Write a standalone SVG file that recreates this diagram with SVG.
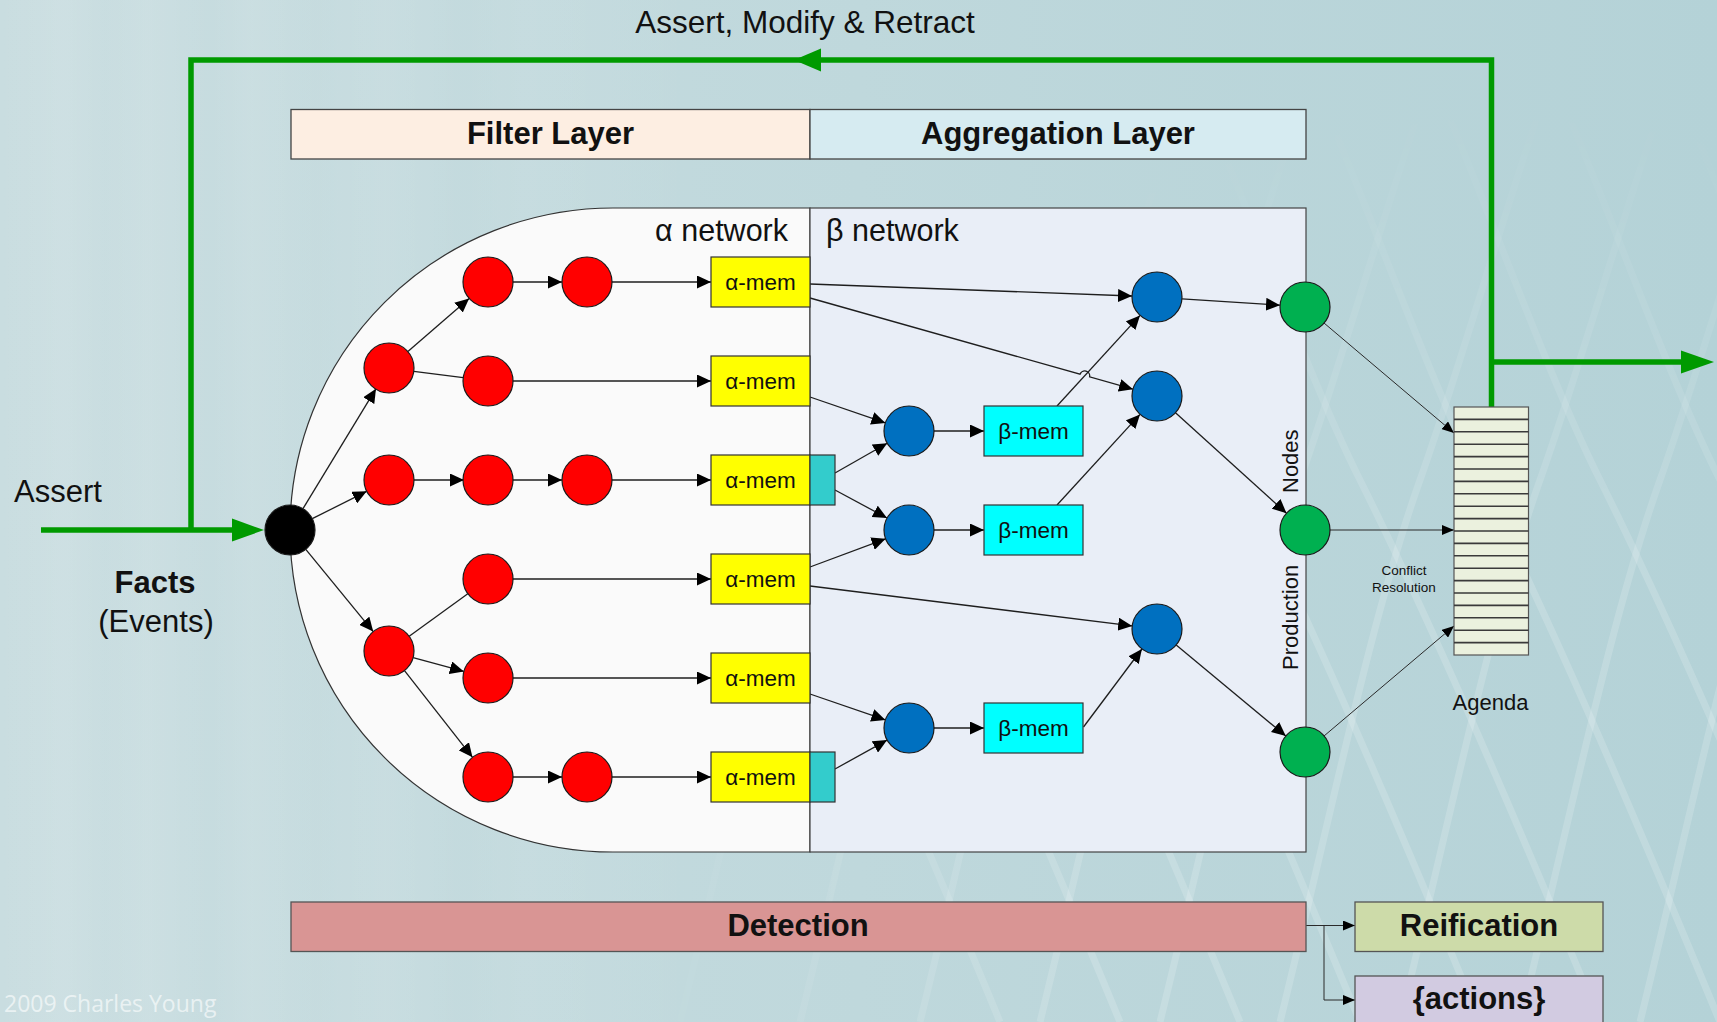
<svg xmlns="http://www.w3.org/2000/svg" width="1717" height="1022" viewBox="0 0 1717 1022">
  <defs>
    <linearGradient id="bg" x1="0" y1="0" x2="1" y2="0">
      <stop offset="0" stop-color="#c9dde0"/>
      <stop offset="0.5" stop-color="#bfd8dc"/>
      <stop offset="1" stop-color="#b4d2d7"/>
    </linearGradient>
    <!-- soft vertical sheen on the left side of the backdrop -->
    <linearGradient id="streaks" gradientUnits="userSpaceOnUse" x1="0" y1="0" x2="700" y2="0">
      <stop offset="0" stop-color="#fff" stop-opacity="0"/>
      <stop offset="0.09" stop-color="#fff" stop-opacity="0.10"/>
      <stop offset="0.15" stop-color="#fff" stop-opacity="0.02"/>
      <stop offset="0.21" stop-color="#fff" stop-opacity="0.09"/>
      <stop offset="0.30" stop-color="#fff" stop-opacity="0"/>
      <stop offset="0.36" stop-color="#fff" stop-opacity="0.08"/>
      <stop offset="0.45" stop-color="#fff" stop-opacity="0.01"/>
      <stop offset="0.55" stop-color="#fff" stop-opacity="0.07"/>
      <stop offset="0.66" stop-color="#fff" stop-opacity="0"/>
      <stop offset="0.76" stop-color="#fff" stop-opacity="0.06"/>
      <stop offset="1" stop-color="#fff" stop-opacity="0"/>
    </linearGradient>
    <radialGradient id="netFade" gradientUnits="userSpaceOnUse" cx="1500" cy="980" r="900">
      <stop offset="0" stop-color="#fff"/>
      <stop offset="0.45" stop-color="#fff"/>
      <stop offset="1" stop-color="#000"/>
    </radialGradient>
    <mask id="netMask" maskUnits="userSpaceOnUse" x="0" y="0" width="1717" height="1022">
      <rect x="0" y="0" width="1717" height="1022" fill="url(#netFade)"/>
    </mask>
    <marker id="ah" markerUnits="userSpaceOnUse" markerWidth="14" markerHeight="13" viewBox="0 0 14 13" refX="14" refY="6.5" orient="auto">
      <path d="M0,0 L14,6.5 L0,13 Z" fill="#000"/>
    </marker>
    <marker id="ahs" markerUnits="userSpaceOnUse" markerWidth="12" markerHeight="10" viewBox="0 0 12 10" refX="12" refY="5" orient="auto">
      <path d="M0,0 L12,5 L0,10 Z" fill="#000"/>
    </marker>
    <style>
      .txt { font-family: "Liberation Sans", Arial, sans-serif; fill: #111; }
      .bold { font-weight: bold; }
      .edge { fill: none; stroke: #1e1e1e; stroke-width: 1.3; }
      .thin { fill: none; stroke: #2a2a2a; stroke-width: 1; }
      .arr { marker-end: url(#ah); }
      .arrs { marker-end: url(#ahs); }
      .node { stroke: #1a1a1a; stroke-width: 1.2; }
      .red { fill: #ff0000; }
      .blue { fill: #0070c0; }
      .green { fill: #00b050; }
      .amem { fill: #ffff00; stroke: #333; stroke-width: 1.2; }
      .bmem { fill: #00ffff; stroke: #333; stroke-width: 1.2; }
      .tab { fill: #33cccc; stroke: #333; stroke-width: 1.2; }
      .memtxt { font-family: "Liberation Sans", Arial, sans-serif; font-size: 22.5px; fill: #111; text-anchor: middle; }
      .flow { fill: none; stroke: #009a00; stroke-width: 5.5; }
      .net { fill: none; stroke: #ffffff; stroke-width: 7; stroke-opacity: 0.17; }
    </style>
  </defs>

  <!-- backdrop -->
  <rect x="0" y="0" width="1717" height="1022" fill="url(#bg)"/>
  <rect x="0" y="0" width="700" height="1022" fill="url(#streaks)"/>
  <g mask="url(#netMask)">
    <path class="net" d="M560,1022 C610,820 650,620 700,480 S800,150 860,0"/>
    <path class="net" d="M680,1022 C730,820 770,620 820,480 S920,150 980,0"/>
    <path class="net" d="M800,1022 C850,820 890,620 940,480 S1040,150 1100,0"/>
    <path class="net" d="M920,1022 C970,820 1010,620 1060,480 S1160,150 1220,0"/>
    <path class="net" d="M1040,1022 C1090,820 1130,620 1180,480 S1280,150 1340,0"/>
    <path class="net" d="M1160,1022 C1210,820 1250,620 1300,480 S1400,150 1460,0"/>
    <path class="net" d="M1280,1022 C1330,820 1370,620 1420,480 S1520,150 1580,0"/>
    <path class="net" d="M1400,1022 C1450,820 1490,620 1540,480 S1640,150 1700,0"/>
    <path class="net" d="M1520,1022 C1570,820 1610,620 1660,480 S1760,150 1820,0"/>
    <path class="net" d="M1640,1022 C1690,820 1730,620 1780,480 S1880,150 1940,0"/>
    <path class="net" d="M1000,1022 C900,780 820,600 760,480 S640,180 560,0"/>
    <path class="net" d="M1120,1022 C1020,780 940,600 880,480 S760,180 680,0"/>
    <path class="net" d="M1240,1022 C1140,780 1060,600 1000,480 S880,180 800,0"/>
    <path class="net" d="M1360,1022 C1260,780 1180,600 1120,480 S1000,180 920,0"/>
    <path class="net" d="M1480,1022 C1380,780 1300,600 1240,480 S1120,180 1040,0"/>
    <path class="net" d="M1600,1022 C1500,780 1420,600 1360,480 S1240,180 1160,0"/>
    <path class="net" d="M1720,1022 C1620,780 1540,600 1480,480 S1360,180 1280,0"/>
    <path class="net" d="M1840,1022 C1740,780 1660,600 1600,480 S1480,180 1400,0"/>
    <path class="net" d="M1960,1022 C1860,780 1780,600 1720,480 S1600,180 1520,0"/>
    <path class="net" d="M2080,1022 C1980,780 1900,600 1840,480 S1720,180 1640,0"/>
  </g>

  <!-- layer bands -->
  <g id="filter-layer">
    <rect x="291" y="109.5" width="519" height="49.5" fill="#fdeee2" stroke="#444" stroke-width="1.3"/>
    <text class="txt bold" x="550.5" y="144" font-size="31" text-anchor="middle">Filter Layer</text>
  </g>
  <g id="aggregation-layer">
    <rect x="810" y="109.5" width="496" height="49.5" fill="#d6ebf1" stroke="#444" stroke-width="1.3"/>
    <text class="txt bold" x="1058" y="144" font-size="31" text-anchor="middle">Aggregation Layer</text>
  </g>

  <!-- network containers -->
  <g id="alpha-network">
    <path d="M810,208 L613,208 A323,322 0 0 0 290,530 A323,322 0 0 0 613,852 L810,852 Z" fill="#fafafa" stroke="#333" stroke-width="1.2"/>
    <text class="txt" x="788" y="241" font-size="30.5" text-anchor="end">α network</text>
  </g>
  <g id="beta-network">
    <rect x="810" y="208" width="496" height="644" fill="#e9eef7" stroke="#444" stroke-width="1.2"/>
    <text class="txt" x="826" y="241" font-size="30.5">β network</text>
    <text class="txt" font-size="22" transform="translate(1298,670) rotate(-90)"><tspan x="0" y="0">Production</tspan><tspan x="177" y="0">Nodes</tspan></text>
  </g>

  <!-- connectors -->
  <g id="connectors">
    <!-- alpha network -->
    <line class="edge arr" x1="303" y1="508.7" x2="376" y2="388.7"/>
    <line class="edge arr" x1="312.3" y1="518.7" x2="366.7" y2="491.3"/>
    <line class="edge arr" x1="305.8" y1="549.4" x2="373.2" y2="631.6"/>
    <line class="edge arr" x1="407.9" y1="351.6" x2="469.1" y2="298.4"/>
    <line class="edge" x1="413.8" y1="371.3" x2="463.2" y2="377.7"/>
    <line class="edge" x1="409.2" y1="636.3" x2="467.8" y2="593.7"/>
    <line class="edge arr" x1="413.1" y1="657.6" x2="463.9" y2="671.4"/>
    <line class="edge arr" x1="404.5" y1="670.7" x2="472.5" y2="757.3"/>
    <line class="edge arr" x1="513" y1="282" x2="562" y2="282"/>
    <line class="edge arr" x1="612" y1="282" x2="711" y2="282"/>
    <line class="edge arr" x1="513" y1="381" x2="711" y2="381"/>
    <line class="edge arr" x1="414" y1="480" x2="464" y2="480"/>
    <line class="edge arr" x1="513" y1="480" x2="562" y2="480"/>
    <line class="edge arr" x1="612" y1="480" x2="711" y2="480"/>
    <line class="edge arr" x1="513" y1="579" x2="711" y2="579"/>
    <line class="edge arr" x1="513" y1="678" x2="711" y2="678"/>
    <line class="edge arr" x1="513" y1="777" x2="562" y2="777"/>
    <line class="edge arr" x1="612" y1="777" x2="711" y2="777"/>
    <!-- alpha memories into beta network -->
    <line class="edge arr" x1="810" y1="284" x2="1132" y2="296"/>
    <path class="edge arr" d="M810,298 L1080,374.2 A5,5 0 0 1 1089.6,376.9 L1133,389.2"/>
    <line class="edge arr" x1="810" y1="397" x2="885.4" y2="422.9"/>
    <line class="edge arr" x1="835" y1="473" x2="887.2" y2="443.3"/>
    <line class="edge arr" x1="835" y1="490" x2="887" y2="518"/>
    <line class="edge arr" x1="810" y1="567" x2="885.6" y2="538.8"/>
    <line class="edge arr" x1="810" y1="586" x2="1132.2" y2="625.9"/>
    <line class="edge arr" x1="810" y1="694" x2="885.4" y2="719.9"/>
    <line class="edge arr" x1="835" y1="769" x2="887.1" y2="740.1"/>
    <!-- joins and beta memories -->
    <line class="edge arr" x1="934" y1="431" x2="984" y2="431"/>
    <line class="edge arr" x1="934" y1="530" x2="984" y2="530"/>
    <line class="edge arr" x1="934" y1="728" x2="984" y2="728"/>
    <line class="edge arr" x1="1057" y1="406" x2="1140" y2="315.4"/>
    <line class="edge arr" x1="1057" y1="505" x2="1140" y2="414.4"/>
    <line class="edge arr" x1="1083.5" y1="727" x2="1141.9" y2="649"/>
    <!-- into production nodes -->
    <line class="edge arr" x1="1182" y1="298.8" x2="1280" y2="305.2"/>
    <line class="edge arr" x1="1175.5" y1="412.8" x2="1286.5" y2="513.2"/>
    <line class="edge arr" x1="1176.2" y1="645" x2="1285.8" y2="736"/>
    <!-- production nodes to agenda -->
    <line class="thin arrs" x1="1324" y1="323" x2="1454" y2="433"/>
    <line class="thin arrs" x1="1330" y1="530" x2="1454" y2="530"/>
    <line class="thin arrs" x1="1324" y1="736" x2="1454" y2="626"/>
    <!-- detection outputs -->
    <path class="thin arrs" d="M1306,925.5 L1355,925.5"/>
    <path class="thin arrs" d="M1324,925.5 L1324,1000 L1355,1000"/>
    <!-- fact flow -->
    <path class="flow" d="M41,530 L232,530"/>
    <polygon points="232,518.5 264,530 232,541.5" fill="#009a00"/>
    <path class="flow" d="M191,530 L191,60 L1491.5,60 L1491.5,407"/>
    <polygon points="794,60 821,48.5 821,71.5" fill="#009a00"/>
    <path class="flow" d="M1491.5,362 L1682,362"/>
    <polygon points="1681,350.5 1714,362 1681,373.5" fill="#009a00"/>
  </g>

  <!-- alpha nodes -->
  <g id="root"><circle class="node" cx="290" cy="530" r="25" fill="#000"/></g>
  <g id="a1"><circle class="node red" cx="389" cy="368" r="25"/></g>
  <g id="a2"><circle class="node red" cx="389" cy="480" r="25"/></g>
  <g id="a3"><circle class="node red" cx="389" cy="651" r="25"/></g>
  <g id="a4"><circle class="node red" cx="488" cy="282" r="25"/></g>
  <g id="a5"><circle class="node red" cx="587" cy="282" r="25"/></g>
  <g id="a6"><circle class="node red" cx="488" cy="381" r="25"/></g>
  <g id="a7"><circle class="node red" cx="488" cy="480" r="25"/></g>
  <g id="a8"><circle class="node red" cx="587" cy="480" r="25"/></g>
  <g id="a9"><circle class="node red" cx="488" cy="579" r="25"/></g>
  <g id="a10"><circle class="node red" cx="488" cy="678" r="25"/></g>
  <g id="a11"><circle class="node red" cx="488" cy="777" r="25"/></g>
  <g id="a12"><circle class="node red" cx="587" cy="777" r="25"/></g>

  <!-- alpha memories -->
  <g id="amem1"><rect class="amem" x="711" y="257" width="99" height="50"/><text class="memtxt" x="760.5" y="290">α-mem</text></g>
  <g id="amem2"><rect class="amem" x="711" y="356" width="99" height="50"/><text class="memtxt" x="760.5" y="389">α-mem</text></g>
  <g id="amem3"><rect class="amem" x="711" y="455" width="99" height="50"/><rect class="tab" x="810" y="455" width="25" height="50"/><text class="memtxt" x="760.5" y="488">α-mem</text></g>
  <g id="amem4"><rect class="amem" x="711" y="554" width="99" height="50"/><text class="memtxt" x="760.5" y="587">α-mem</text></g>
  <g id="amem5"><rect class="amem" x="711" y="653" width="99" height="50"/><text class="memtxt" x="760.5" y="686">α-mem</text></g>
  <g id="amem6"><rect class="amem" x="711" y="752" width="99" height="50"/><rect class="tab" x="810" y="752" width="25" height="50"/><text class="memtxt" x="760.5" y="785">α-mem</text></g>

  <!-- beta nodes -->
  <g id="b1"><circle class="node blue" cx="1157" cy="297" r="25"/></g>
  <g id="b2"><circle class="node blue" cx="1157" cy="396" r="25"/></g>
  <g id="b3"><circle class="node blue" cx="909" cy="431" r="25"/></g>
  <g id="b4"><circle class="node blue" cx="909" cy="530" r="25"/></g>
  <g id="b5"><circle class="node blue" cx="1157" cy="629" r="25"/></g>
  <g id="b6"><circle class="node blue" cx="909" cy="728" r="25"/></g>
  <g id="bmem1"><rect class="bmem" x="984" y="406" width="99" height="50"/><text class="memtxt" x="1033.5" y="439">β-mem</text></g>
  <g id="bmem2"><rect class="bmem" x="984" y="505" width="99" height="50"/><text class="memtxt" x="1033.5" y="538">β-mem</text></g>
  <g id="bmem3"><rect class="bmem" x="984" y="703" width="99" height="50"/><text class="memtxt" x="1033.5" y="736">β-mem</text></g>

  <!-- production nodes -->
  <g id="p1"><circle class="node green" cx="1305" cy="307" r="25"/></g>
  <g id="p2"><circle class="node green" cx="1305" cy="530" r="25"/></g>
  <g id="p3"><circle class="node green" cx="1305" cy="752" r="25"/></g>

  <!-- agenda -->
  <g id="agenda">
    <rect x="1454" y="407" width="74.5" height="248" fill="#ebf1de" stroke="#555" stroke-width="1.2"/>
    <path d="M1454,419.4H1528.5M1454,431.8H1528.5M1454,444.2H1528.5M1454,456.6H1528.5M1454,469H1528.5M1454,481.4H1528.5M1454,493.8H1528.5M1454,506.2H1528.5M1454,518.6H1528.5M1454,531H1528.5M1454,543.4H1528.5M1454,555.8H1528.5M1454,568.2H1528.5M1454,580.6H1528.5M1454,593H1528.5M1454,605.4H1528.5M1454,617.8H1528.5M1454,630.2H1528.5M1454,642.6H1528.5" stroke="#3a3a3a" stroke-width="1.6" fill="none"/>
    <text class="txt" x="1490.5" y="710" font-size="22" text-anchor="middle" fill="#333">Agenda</text>
  </g>
  <g id="conflict-resolution">
    <text class="txt" x="1404" y="575" font-size="13.5" text-anchor="middle" fill="#4a4a4a">Conflict</text>
    <text class="txt" x="1404" y="591.5" font-size="13.5" text-anchor="middle" fill="#4a4a4a">Resolution</text>
  </g>

  <!-- bottom bands -->
  <g id="detection">
    <rect x="291" y="902" width="1015" height="49.5" fill="#d99594" stroke="#555" stroke-width="1.3"/>
    <text class="txt bold" x="798" y="935.5" font-size="31" text-anchor="middle">Detection</text>
  </g>
  <g id="reification">
    <rect x="1355" y="902" width="248" height="49.5" fill="#cddba9" stroke="#555" stroke-width="1.3"/>
    <text class="txt bold" x="1479" y="935.5" font-size="31" text-anchor="middle">Reification</text>
  </g>
  <g id="actions">
    <rect x="1355" y="976" width="248" height="60" fill="#d2cbe1" stroke="#555" stroke-width="1.3"/>
    <text class="txt bold" x="1479" y="1008.5" font-size="31" text-anchor="middle">{actions}</text>
  </g>

  <!-- labels -->
  <g id="labels">
    <text class="txt" x="805" y="33" font-size="31.5" text-anchor="middle" fill="#1a1a1a">Assert, Modify &amp; Retract</text>
    <text class="txt" x="14" y="502" font-size="31" fill="#1a1a1a">Assert</text>
    <text class="txt bold" x="155" y="593" font-size="31" text-anchor="middle">Facts</text>
    <text class="txt" x="156" y="632" font-size="31" text-anchor="middle" fill="#1a1a1a">(Events)</text>
    <text x="4" y="1012" font-family="'Open Sans', 'Liberation Sans', sans-serif" font-size="23" fill="#ffffff" fill-opacity="0.62">2009 Charles Young</text>
  </g>
</svg>
